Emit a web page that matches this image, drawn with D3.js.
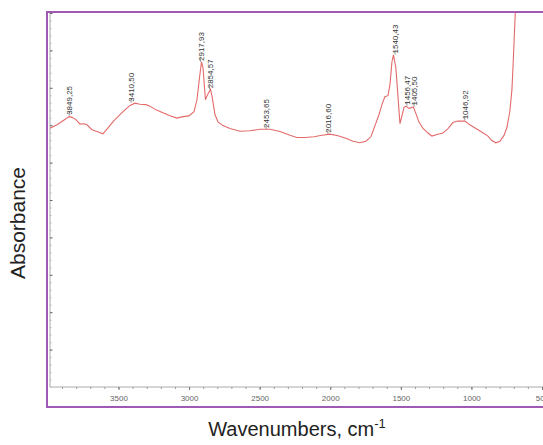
<!DOCTYPE html>
<html>
<head>
<meta charset="utf-8">
<script src="https://cdn.jsdelivr.net/npm/d3@7"></script>
<style>
  body { margin: 0; background: #fff; }
  text { font-family: "Liberation Sans", Arial, sans-serif; }
</style>
</head>
<body>
<div id="chart"></div>
<script>
// spectrum (wavenumber cm-1, absorbance in arbitrary units)
const wavenumbers = [3985, 3935, 3893, 3850, 3829, 3801, 3773, 3744, 3723, 3688, 3652, 3610, 3574, 3532, 3489, 3454, 3418, 3383, 3348, 3305,
  3277, 3234, 3185, 3135, 3086, 3043, 3001, 2965, 2944, 2926, 2912, 2901, 2884, 2870, 2848, 2838, 2816, 2795, 2760, 2710,
  2639, 2569, 2498, 2427, 2356, 2285, 2236, 2179, 2115, 2059, 2002, 1945, 1889, 1839, 1790, 1747, 1712, 1683, 1655, 1634,
  1613, 1591, 1577, 1563, 1552, 1535, 1521, 1506, 1492, 1478, 1464, 1443, 1425, 1411, 1393, 1372, 1344, 1308, 1280, 1244,
  1202, 1166, 1131, 1096, 1046, 1011, 968, 919, 883, 855, 827, 798, 770, 749, 728, 713, 703, 696, 689, 678]
const absorbance = [0.692, 0.701, 0.712, 0.723, 0.721, 0.715, 0.703, 0.704, 0.701, 0.688, 0.683, 0.677, 0.693, 0.712, 0.728, 0.741, 0.753, 0.759, 0.756, 0.755,
  0.751, 0.741, 0.733, 0.725, 0.719, 0.723, 0.725, 0.736, 0.768, 0.827, 0.869, 0.853, 0.768, 0.781, 0.796, 0.779, 0.728, 0.709, 0.699, 0.691,
  0.684, 0.685, 0.689, 0.689, 0.683, 0.673, 0.667, 0.667, 0.669, 0.673, 0.676, 0.672, 0.665, 0.657, 0.653, 0.657, 0.669, 0.699, 0.728, 0.755,
  0.776, 0.779, 0.808, 0.869, 0.888, 0.853, 0.781, 0.704, 0.725, 0.747, 0.751, 0.745, 0.747, 0.749, 0.731, 0.709, 0.692, 0.679, 0.671, 0.675,
  0.679, 0.691, 0.707, 0.711, 0.711, 0.701, 0.691, 0.680, 0.671, 0.659, 0.653, 0.657, 0.672, 0.693, 0.736, 0.795, 0.875, 0.941, 1.0, 1.088]

// peak labels
const peakWn = [3849.25, 3410.50, 2917.93, 2854.57, 2453.65, 2016.60, 1540.43, 1456.47, 1405.50, 1046.92]
const peakText = ["3849,25", "3410,50", "2917,93", "2854,57", "2453,65", "2016,60", "1540,43", "1456,47", "1405,50", "1046,92"]
const peakAbs = [0.725, 0.76, 0.869, 0.796, 0.69, 0.677, 0.889, 0.752, 0.75, 0.713]

const xTicks = [3500, 3000, 2500, 2000, 1500, 1000, 500]

const W = 543, H = 445
const mLeft = 50, mTop = 13, mBottom = 387, mRight = 542

const svg = d3.select("#chart").append("svg")
  .attr("width", W)
  .attr("height", H)

const x = d3.scaleLinear().domain([3985, 500]).range([mLeft, mRight])
const y = d3.scaleLinear().domain([0, 1]).range([mBottom, mTop])

// purple frame, runs off the right side
svg.append("rect")
  .attr("x", 47).attr("y", 12)
  .attr("width", 530).attr("height", 395)
  .attr("fill", "none")
  .attr("stroke", "#a05ab4")
  .attr("stroke-width", 2)

// x axis
const xMinor = d3.range(3900, 499, -100)
svg.append("g")
  .attr("transform", `translate(0,${mBottom})`)
  .call(d3.axisBottom(x).tickValues(xMinor).tickSize(2).tickFormat(""))
  .call(g => g.select(".domain").remove())
  .selectAll("line").attr("stroke", "#999")

svg.append("g")
  .attr("transform", `translate(0,${mBottom})`)
  .call(d3.axisBottom(x).tickValues(xTicks).tickSize(3).tickPadding(5).tickFormat(d3.format("d")))
  .call(g => g.select(".domain").attr("stroke", "#aaa").attr("d", `M${mLeft},0H${W}`))
  .call(g => g.selectAll("line").attr("stroke", "#777"))
  .call(g => g.selectAll("text").attr("fill", "#666").style("font-size", "8px"))

// y axis, no labels
svg.append("g")
  .attr("transform", `translate(${mLeft},0)`)
  .call(d3.axisRight(y).tickValues(d3.range(0, 1.001, 0.02)).tickSize(1.5).tickFormat(""))
  .call(g => g.select(".domain").remove())
  .selectAll("line").attr("stroke", "#bbb")

svg.append("g")
  .attr("transform", `translate(${mLeft},0)`)
  .call(d3.axisRight(y).tickValues(d3.range(0.1, 1.001, 0.1)).tickSize(2.5).tickFormat(""))
  .call(g => g.select(".domain").attr("stroke", "#aaa").attr("d", `M0,${mBottom}V${mTop}`))
  .selectAll("line").attr("stroke", "#666")

// spectrum
svg.append("clipPath").attr("id", "clip")
  .append("rect").attr("x", mLeft).attr("y", mTop).attr("width", W - mLeft).attr("height", mBottom - mTop)

const data = wavenumbers.map((w, i) => [w, absorbance[i]])
svg.append("path")
  .datum(data)
  .attr("clip-path", "url(#clip)")
  .attr("fill", "none")
  .attr("stroke", "#e46a6a")
  .attr("stroke-width", 1.1)
  .attr("d", d3.line().x(d => x(d[0])).y(d => y(d[1])))

// peak labels
const peaks = svg.append("g")
peakWn.forEach((w, i) => {
  const px = x(w), py = y(peakAbs[i])
  peaks.append("line")
    .attr("x1", px).attr("x2", px)
    .attr("y1", py).attr("y2", py - 4)
    .attr("stroke", "#555").attr("stroke-width", 0.6)
  peaks.append("text")
    .attr("transform", `translate(${px + 3},${py - 1}) rotate(-90)`)
    .attr("fill", "#333")
    .style("font-size", "8px")
    .text(peakText[i])
})

// titles
svg.append("text")
  .attr("transform", "translate(25,223) rotate(-90)")
  .attr("text-anchor", "middle")
  .attr("fill", "#222")
  .style("font-size", "21px")
  .text("Absorbance")

const xt = svg.append("text")
  .attr("x", 297).attr("y", 436)
  .attr("text-anchor", "middle")
  .attr("fill", "#222")
  .style("font-size", "20px")
xt.append("tspan").text("Wavenumbers, cm")
xt.append("tspan").attr("dy", -8).style("font-size", "13px").text("-1")
</script>
</body>
</html>
